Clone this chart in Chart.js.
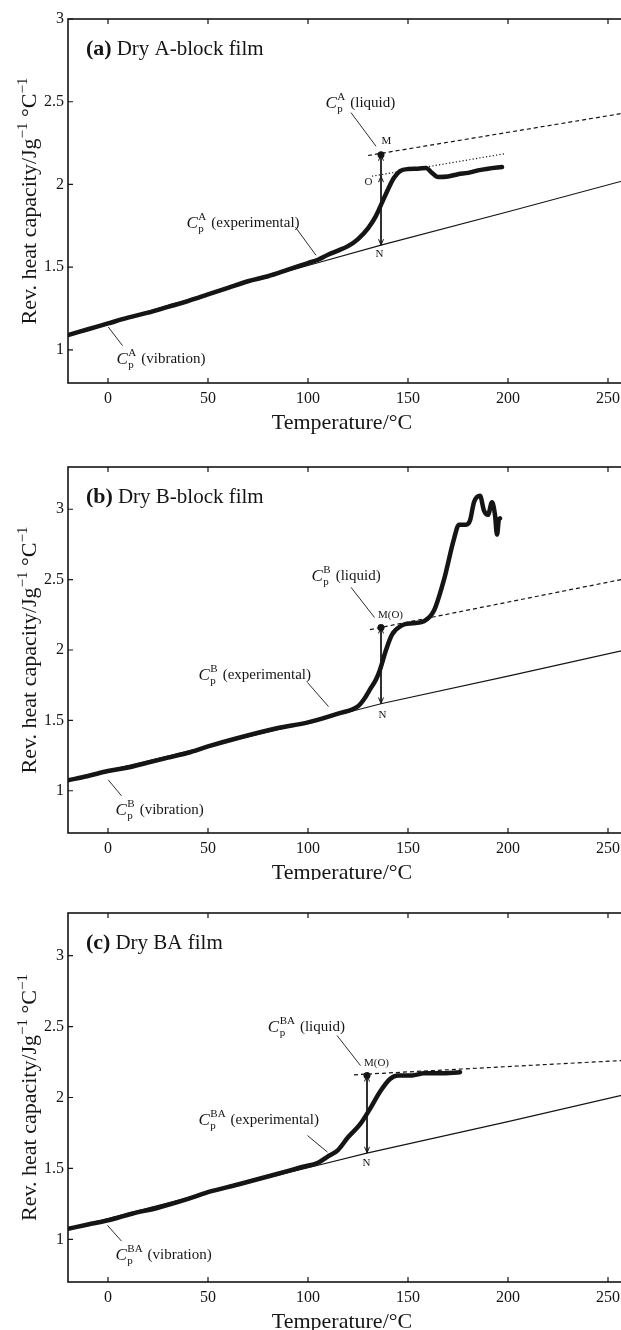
<!DOCTYPE html>
<html>
<head>
<meta charset="utf-8">
<script src="https://cdn.jsdelivr.net/npm/chart.js@4.4.0/dist/chart.umd.min.js"></script>
<style>
html, body { margin: 0; padding: 0; background: #fff; overflow: hidden; width: 621px; height: 1330px; }
canvas { position: absolute; left: 0; }
</style>
</head>
<body>
<canvas id="chartA" width="640" height="440" style="top:0px"></canvas>
<canvas id="chartB" width="640" height="440" style="top:440px"></canvas>
<canvas id="chartC" width="640" height="450" style="top:880px"></canvas>
<script>
// axis ticks
const xTicks = [0, 50, 100, 150, 200, 250];
const yTicks = [1, 1.5, 2, 2.5, 3];

// (a) Dry A-block film
const aExpT = [-20, -10, 0, 10, 20, 30, 40, 50, 60, 70, 80, 90, 100, 105, 110, 115, 120, 125, 130, 134, 137, 140, 143, 146, 150, 155, 159, 162, 165, 170, 175, 180, 185, 190, 197];
const aExpV = [1.09, 1.125, 1.16, 1.195, 1.225, 1.26, 1.295, 1.335, 1.375, 1.415, 1.445, 1.485, 1.525, 1.545, 1.575, 1.6, 1.627, 1.67, 1.735, 1.81, 1.89, 1.97, 2.04, 2.08, 2.093, 2.095, 2.10, 2.07, 2.045, 2.048, 2.062, 2.07, 2.085, 2.095, 2.105];
const aVibT = [-20, 50, 100, 137, 200, 260];
const aVibV = [1.09, 1.34, 1.51, 1.635, 1.835, 2.03];
const aLiqT = [130, 260];
const aLiqV = [2.175, 2.435];
const aDotT = [132, 198];
const aDotV = [2.05, 2.185];
const aArrowT = [136.5, 136.5];
const aArrowV = [2.18, 1.633];
const aOV = 2.05;

// (b) Dry B-block film
const bExpT = [-20, -10, 0, 10, 20, 30, 40, 50, 65, 85, 100, 115, 125, 128, 131, 134, 136, 139, 142, 147, 152, 158, 163, 168, 173, 175.5, 179, 181, 183, 186, 188, 190, 192, 193.5, 194.5, 195.5, 196];
const bExpV = [1.075, 1.105, 1.14, 1.165, 1.2, 1.235, 1.27, 1.315, 1.375, 1.446, 1.486, 1.548, 1.6, 1.65, 1.72, 1.79, 1.86, 2.0, 2.11, 2.175, 2.19, 2.205, 2.28, 2.5, 2.79, 2.89, 2.89, 2.92, 3.05, 3.095, 2.99, 2.96, 3.05, 2.96, 2.82, 2.93, 2.935];
const bVibT = [-20, 50, 100, 137, 200, 260];
const bVibV = [1.075, 1.315, 1.485, 1.62, 1.815, 2.005];
const bLiqT = [131, 260];
const bLiqV = [2.145, 2.51];
const bArrowT = [136.5, 136.5];
const bArrowV = [2.16, 1.62];

// (c) Dry BA film
const cExpT = [-20, -10, 0, 12, 25, 40, 50, 65, 85, 97, 105, 110, 115, 120, 126, 131, 136, 141, 145, 152, 158, 166, 176];
const cExpV = [1.075, 1.105, 1.134, 1.181, 1.223, 1.285, 1.333, 1.387, 1.463, 1.51, 1.54, 1.585, 1.63, 1.72, 1.81, 1.92, 2.04, 2.13, 2.155, 2.155, 2.17, 2.17, 2.178];
const cVibT = [-20, 50, 100, 130, 200, 260];
const cVibV = [1.075, 1.33, 1.505, 1.61, 1.83, 2.025];
const cLiqT = [123, 260];
const cLiqV = [2.16, 2.263];
const cArrowT = [129.5, 129.5];
const cArrowV = [2.155, 1.61];

const serif = '"Liberation Serif", "Times New Roman", serif';
const ink = '#151515';

function pts(ts, vs) {
    return ts.map((t, i) => ({ x: t, y: vs[i] }));
}

// annotations, positions in data units
const notes = {
    chartA: {
        title: ['(a)', 'Dry A-block film'],
        labels: [
            { t: 108.75, v: 2.464, sup: 'A', text: '(liquid)' },
            { t: 39.25, v: 1.739, sup: 'A', text: '(experimental)' },
            { t: 4.25, v: 0.916, sup: 'A', text: '(vibration)' }
        ],
        leaders: [
            [121.5, 2.434, 134, 2.231],
            [93.75, 1.741, 104, 1.572],
            [0.1, 1.139, 7.25, 1.026]
        ],
        marks: [
            { t: 139.25, v: 2.261, s: 'M' },
            { t: 130.25, v: 2.012, s: 'O' },
            { t: 135.75, v: 1.578, s: 'N' }
        ],
        heads: [
            { t: aArrowT[0], v: aArrowV[0], dir: -1 },
            { t: aArrowT[0], v: aOV, dir: -1 },
            { t: aArrowT[1], v: aArrowV[1], dir: 1 }
        ]
    },
    chartB: {
        title: ['(b)', 'Dry B-block film'],
        labels: [
            { t: 101.75, v: 2.49, sup: 'B', text: '(liquid)' },
            { t: 45.25, v: 1.79, sup: 'B', text: '(experimental)' },
            { t: 3.75, v: 0.829, sup: 'B', text: '(vibration)' }
        ],
        leaders: [
            [121.5, 2.445, 133.25, 2.231],
            [99.75, 1.769, 110.25, 1.598],
            [0.1, 1.078, 6.75, 0.964]
        ],
        marks: [
            { t: 141.25, v: 2.246, s: 'M(O)' },
            { t: 137.25, v: 1.541, s: 'N' }
        ],
        heads: [
            { t: bArrowT[0], v: bArrowV[0], dir: -1 },
            { t: bArrowT[1], v: bArrowV[1], dir: 1 }
        ]
    },
    chartC: {
        title: ['(c)', 'Dry BA film'],
        labels: [
            { t: 79.9, v: 2.46, sup: 'BA', text: '(liquid)' },
            { t: 45.25, v: 1.803, sup: 'BA', text: '(experimental)' },
            { t: 3.75, v: 0.852, sup: 'BA', text: '(vibration)' }
        ],
        leaders: [
            [114.5, 2.437, 126.25, 2.225],
            [99.75, 1.732, 109.75, 1.615],
            [-0.25, 1.099, 6.75, 0.988]
        ],
        marks: [
            { t: 134.25, v: 2.239, s: 'M(O)' },
            { t: 129.25, v: 1.535, s: 'N' }
        ],
        heads: [
            { t: cArrowT[0], v: cArrowV[0], dir: -1 },
            { t: cArrowT[1], v: cArrowV[1], dir: 1 }
        ]
    }
};

function drawCp(ctx, x, y, sup, text) {
    ctx.textAlign = 'left';
    ctx.textBaseline = 'alphabetic';
    ctx.font = 'italic 17px ' + serif;
    ctx.fillText('C', x, y);
    const cx = x + ctx.measureText('C').width + 0.5;
    ctx.font = '11px ' + serif;
    ctx.fillText(sup, cx, y - 8);
    ctx.fillText('p', cx, y + 4);
    const w = Math.max(ctx.measureText(sup).width, ctx.measureText('p').width);
    ctx.font = '15px ' + serif;
    ctx.fillText(text, cx + w + 5, y - 1);
}

const framePlugin = {
    id: 'frame',
    afterDatasetsDraw(chart) {
        const { ctx, chartArea: a, scales: { x, y } } = chart;
        const n = notes[chart.canvas.id];
        ctx.save();
        ctx.fillStyle = ink;
        ctx.strokeStyle = ink;

        // box + inward ticks
        ctx.lineWidth = 1.6;
        ctx.strokeRect(a.left, a.top, a.right - a.left, a.bottom - a.top);
        ctx.lineWidth = 1.2;
        ctx.beginPath();
        x.ticks.forEach(t => {
            const px = x.getPixelForValue(t.value);
            ctx.moveTo(px, a.bottom); ctx.lineTo(px, a.bottom - 5);
            ctx.moveTo(px, a.top); ctx.lineTo(px, a.top + 5);
        });
        y.ticks.forEach(t => {
            const py = y.getPixelForValue(t.value);
            ctx.moveTo(a.left, py); ctx.lineTo(a.left + 5, py);
            ctx.moveTo(a.right, py); ctx.lineTo(a.right - 5, py);
        });
        ctx.stroke();

        // leader lines
        ctx.lineWidth = 0.9;
        ctx.beginPath();
        n.leaders.forEach(l => {
            ctx.moveTo(x.getPixelForValue(l[0]), y.getPixelForValue(l[1]));
            ctx.lineTo(x.getPixelForValue(l[2]), y.getPixelForValue(l[3]));
        });
        ctx.stroke();

        // arrow heads
        ctx.lineWidth = 1;
        n.heads.forEach(h => {
            const px = x.getPixelForValue(h.t), py = y.getPixelForValue(h.v);
            ctx.beginPath();
            ctx.moveTo(px - 2.5, py - 6 * h.dir);
            ctx.lineTo(px, py);
            ctx.lineTo(px + 2.5, py - 6 * h.dir);
            ctx.stroke();
        });

        // curve labels
        n.labels.forEach(l => drawCp(ctx, x.getPixelForValue(l.t), y.getPixelForValue(l.v), l.sup, l.text));

        // point letters
        ctx.font = '11px ' + serif;
        ctx.textAlign = 'center';
        ctx.textBaseline = 'middle';
        n.marks.forEach(m => ctx.fillText(m.s, x.getPixelForValue(m.t), y.getPixelForValue(m.v)));

        // panel title
        ctx.textAlign = 'left';
        ctx.textBaseline = 'alphabetic';
        ctx.font = 'bold 22px ' + serif;
        ctx.fillText(n.title[0], a.left + 18, a.top + 36);
        const tw = ctx.measureText(n.title[0]).width;
        ctx.font = '21px ' + serif;
        ctx.fillText(n.title[1], a.left + 18 + tw + 5, a.top + 36);

        // x axis title
        ctx.font = '22px ' + serif;
        ctx.textAlign = 'center';
        ctx.textBaseline = 'middle';
        ctx.fillText('Temperature/\u00b0C', 342, a.bottom + 40);

        // y axis title with superscripts
        const parts = [
            ['Rev. heat capacity/Jg', 22, 0],
            ['\u22121', 15, -9],
            [' \u00b0C', 22, 0],
            ['\u22121', 15, -9]
        ];
        let total = 0;
        parts.forEach(p => { ctx.font = p[1] + 'px ' + serif; total += ctx.measureText(p[0]).width; });
        ctx.translate(29, (a.top + a.bottom) / 2);
        ctx.rotate(-Math.PI / 2);
        ctx.textAlign = 'left';
        ctx.textBaseline = 'alphabetic';
        let cx = -total / 2;
        parts.forEach(p => {
            ctx.font = p[1] + 'px ' + serif;
            ctx.fillText(p[0], cx, 7 + p[2]);
            cx += ctx.measureText(p[0]).width;
        });
        ctx.restore();
    }
};

function makeChart(id, cfg) {
    const datasets = [
        { data: pts(cfg.expT, cfg.expV), borderColor: ink, borderWidth: 4.5, pointRadius: 0, cubicInterpolationMode: 'monotone', borderCapStyle: 'round', borderJoinStyle: 'round' },
        { data: pts(cfg.vibT, cfg.vibV), borderColor: ink, borderWidth: 1.2, pointRadius: 0 },
        { data: pts(cfg.liqT, cfg.liqV), borderColor: ink, borderWidth: 1.2, borderDash: [4, 3], pointRadius: 0 },
        { data: pts(cfg.arrowT, cfg.arrowV), borderColor: ink, borderWidth: 1, pointRadius: [3.5, 0], pointBackgroundColor: ink, pointBorderWidth: 0 }
    ];
    if (cfg.dotT) {
        datasets.push({ data: pts(cfg.dotT, cfg.dotV), borderColor: ink, borderWidth: 1.2, borderDash: [1.2, 2.2], pointRadius: 0 });
    }
    const tickFont = { family: serif, size: 16 };
    return new Chart(document.getElementById(id), {
        type: 'line',
        data: { datasets: datasets },
        options: {
            responsive: false,
            animation: false,
            layout: { padding: { top: cfg.padTop, right: 12, left: 0, bottom: 0 } },
            plugins: { legend: { display: false }, tooltip: { enabled: false } },
            scales: {
                x: {
                    type: 'linear', min: -20, max: 260,
                    grid: { display: false, drawTicks: false },
                    border: { display: false },
                    afterBuildTicks: s => { s.ticks = xTicks.map(v => ({ value: v })); },
                    afterFit: s => { s.height = cfg.xAxisH; },
                    ticks: { font: tickFont, color: ink, padding: 6, maxRotation: 0, callback: v => String(v) }
                },
                y: {
                    type: 'linear', min: cfg.yMin, max: cfg.yMax,
                    grid: { display: false, drawTicks: false },
                    border: { display: false },
                    afterBuildTicks: s => { s.ticks = yTicks.map(v => ({ value: v })); },
                    afterFit: s => { s.width = 68; },
                    ticks: { font: tickFont, color: ink, padding: 4, callback: v => String(v) }
                }
            }
        },
        plugins: [framePlugin]
    });
}

makeChart('chartA', { padTop: 19, xAxisH: 57, yMin: 0.8, yMax: 3,
    expT: aExpT, expV: aExpV, vibT: aVibT, vibV: aVibV, liqT: aLiqT, liqV: aLiqV,
    arrowT: aArrowT, arrowV: aArrowV, dotT: aDotT, dotV: aDotV });
makeChart('chartB', { padTop: 27, xAxisH: 47, yMin: 0.7, yMax: 3.3,
    expT: bExpT, expV: bExpV, vibT: bVibT, vibV: bVibV, liqT: bLiqT, liqV: bLiqV,
    arrowT: bArrowT, arrowV: bArrowV });
makeChart('chartC', { padTop: 33, xAxisH: 48, yMin: 0.7, yMax: 3.3,
    expT: cExpT, expV: cExpV, vibT: cVibT, vibV: cVibV, liqT: cLiqT, liqV: cLiqV,
    arrowT: cArrowT, arrowV: cArrowV });
</script>
</body>
</html>
